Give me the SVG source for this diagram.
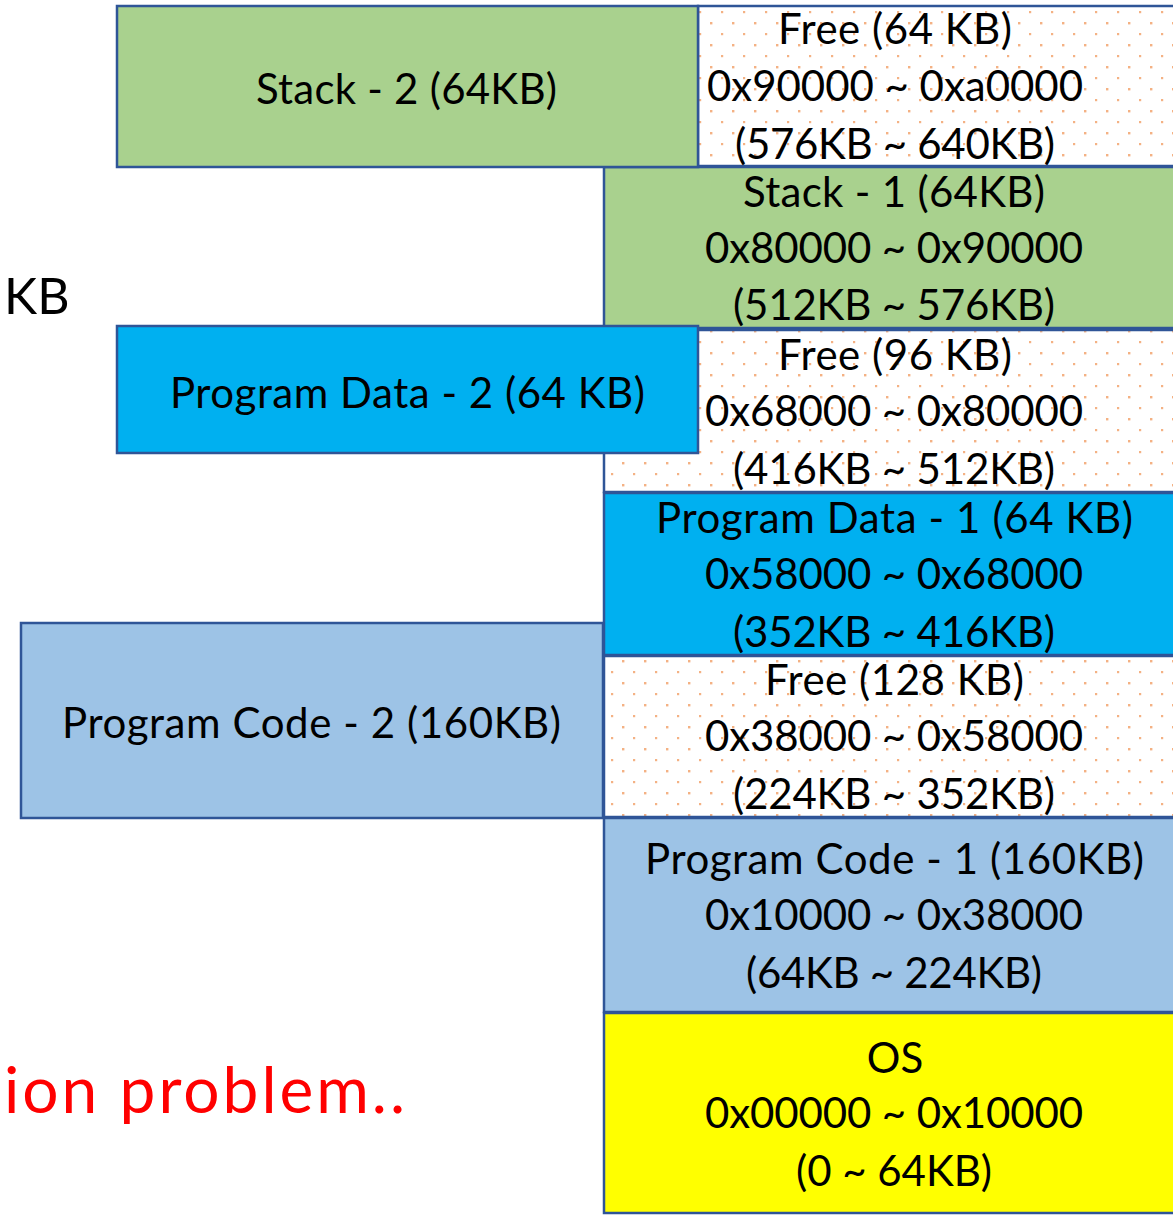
<svg xmlns="http://www.w3.org/2000/svg" width="1173" height="1215" viewBox="0 0 1173 1215">
<style>
.box{stroke:#2f5597;stroke-width:2.5}
.free{fill:url(#dots)}
.green{fill:#a9d18e}
.blue{fill:#00b0f0}
.lblue{fill:#9dc3e6}
.yellow{fill:#ffff00}
text{font-family:Lato,"Open Sans","Liberation Sans",sans-serif;font-size:42px;fill:#000;text-anchor:middle}
.kb{font-size:50px;text-anchor:start}
.red{font-size:64px;text-anchor:start;fill:#ff0000}
</style>
<defs>
<pattern id="dots" patternUnits="userSpaceOnUse" x="711" y="1" width="22" height="22">
<rect width="22" height="22" fill="#ffffff"/>
<rect x="-1" y="-1" width="2.4" height="2.4" fill="#f4b183"/>
<rect x="21" y="-1" width="2.4" height="2.4" fill="#f4b183"/>
<rect x="-1" y="21" width="2.4" height="2.4" fill="#f4b183"/>
<rect x="21" y="21" width="2.4" height="2.4" fill="#f4b183"/>
<rect x="10" y="10" width="2.2" height="2.2" fill="#f4b183"/>
</pattern>
</defs>
<g id="free-64">
<rect class="box free" x="698" y="6" width="500" height="160"/>
<text x="895" y="44" textLength="234">Free (64 KB)</text>
<text x="895" y="101" textLength="376">0x90000 ~ 0xa0000</text>
<text x="895" y="159" textLength="320">(576KB ~ 640KB)</text>
</g>
<g id="stack-1">
<rect class="box green" x="604" y="167" width="594" height="161"/>
<text x="894" y="207" textLength="302">Stack - 1 (64KB)</text>
<text x="894" y="263" textLength="378">0x80000 ~ 0x90000</text>
<text x="894" y="320" textLength="322">(512KB ~ 576KB)</text>
</g>
<g id="free-96">
<rect class="box free" x="604" y="330" width="594" height="162"/>
<text x="895" y="370" textLength="234">Free (96 KB)</text>
<text x="894" y="426" textLength="378">0x68000 ~ 0x80000</text>
<text x="894" y="484" textLength="322">(416KB ~ 512KB)</text>
</g>
<g id="program-data-1">
<rect class="box blue" x="604" y="493" width="594" height="162"/>
<text x="894.5" y="533" textLength="477">Program Data - 1 (64 KB)</text>
<text x="894" y="589" textLength="378">0x58000 ~ 0x68000</text>
<text x="894" y="647" textLength="322">(352KB ~ 416KB)</text>
</g>
<g id="free-128">
<rect class="box free" x="604" y="656" width="594" height="161"/>
<text x="894.5" y="695" textLength="259">Free (128 KB)</text>
<text x="894" y="751" textLength="378">0x38000 ~ 0x58000</text>
<text x="894" y="809" textLength="322">(224KB ~ 352KB)</text>
</g>
<g id="program-code-1">
<rect class="box lblue" x="604" y="818" width="594" height="194"/>
<text x="894.5" y="874" textLength="499">Program Code - 1 (160KB)</text>
<text x="894" y="930" textLength="378">0x10000 ~ 0x38000</text>
<text x="894" y="988" textLength="296">(64KB ~ 224KB)</text>
</g>
<g id="os">
<rect class="box yellow" x="604" y="1013" width="594" height="200"/>
<text x="895" y="1073">OS</text>
<text x="894" y="1128" textLength="378">0x00000 ~ 0x10000</text>
<text x="894" y="1186" textLength="196">(0 ~ 64KB)</text>
</g>
<g id="stack-2">
<rect class="box green" x="117" y="6" width="581" height="161"/>
<text x="406.5" y="104" textLength="301">Stack - 2 (64KB)</text>
</g>
<g id="program-data-2">
<rect class="box blue" x="117" y="326" width="581" height="127"/>
<text x="407.5" y="408" textLength="475">Program Data - 2 (64 KB)</text>
</g>
<g id="program-code-2">
<rect class="box lblue" x="21" y="623" width="582" height="195"/>
<text x="311.5" y="738" textLength="499">Program Code - 2 (160KB)</text>
</g>
<g id="connectors"/>
<text class="kb" x="4" y="314">KB</text>
<text class="red" x="4" y="1113" textLength="401">ion problem..</text>
</svg>
